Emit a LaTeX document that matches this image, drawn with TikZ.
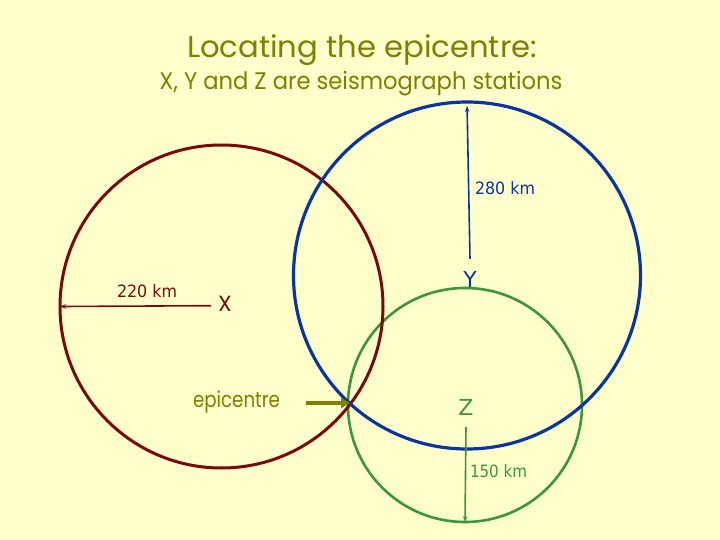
\documentclass[tikz,border=0pt]{standalone}
\usepackage{fontspec}
\usepackage{graphicx}
\usetikzlibrary{arrows.meta}
\newfontfamily\comicf{Poppins}
\newfontfamily\verdf{DejaVu Sans}
\definecolor{bg}{HTML}{FFFFCC}
\definecolor{olive}{HTML}{7F7F00}
\definecolor{maroonc}{HTML}{7A0A0A}
\definecolor{bluec}{HTML}{0A35A0}
\definecolor{greenc}{HTML}{3C963C}
\tikzset{
  txt/.style={inner sep=0pt, outer sep=0pt, anchor=base},
  ring/.style={circle, draw, inner sep=0pt, outer sep=0pt},
  radius arrow/.style={line width=1.6pt, -{Stealth[length=6pt,width=4.5pt]}},
}
\newcommand{\fitw}[2]{\resizebox{#1}{\height}{#2}}
\begin{document}
\begin{tikzpicture}[x=1pt,y=-1pt]
\fill[bg] (0,0) rectangle (720,540);
\useasboundingbox (0,0) rectangle (720,540);

% titles
\node[txt, text=olive] (title) at (362,58) {\fitw{350pt}{\fontsize{30}{36}\comicf Locating the epicentre:}};
\node[txt, text=olive] (subtitle) at (361,90) {\fitw{403pt}{\fontsize{24}{29}\comicf X, Y and Z are seismograph stations}};

% circles
\node[ring, draw=greenc, line width=2.6pt, minimum size=234pt] (cZ) at (465,405) {};
\node[ring, draw=maroonc, line width=3pt, minimum size=323pt] (cX) at (221.5,306.5) {};
\node[ring, draw=bluec, line width=3.2pt, minimum size=347pt] (cY) at (467,275.5) {};

% station labels
\node[txt, text=maroonc] (X) at (225,311) {\fontsize{22}{26}\comicf X};
\node[txt, text=bluec] (Y) at (470,287) {\fontsize{22}{26}\verdf Y};
\node[txt, text=greenc] (Z) at (466,415) {\fontsize{22}{26}\verdf Z};

% distance labels
\node[txt, text=maroonc] (d220) at (147,297) {\fitw{60pt}{\fontsize{17}{20}\verdf 220 km}};
\node[txt, text=bluec] (d280) at (505,195) {\fitw{60pt}{\fontsize{17}{20}\verdf 280 km}};
\node[txt, text=greenc] (d150) at (498.5,477) {\fitw{57pt}{\fontsize{17}{20}\verdf 150 km}};

% epicentre label
\node[txt, text=olive] (epi) at (236.5,407) {\fitw{87pt}{\fontsize{22}{26}\comicf epicentre}};
\coordinate (epistart) at (306,403);
\coordinate (epipoint) at (350,403);

% radius arrows
\draw[radius arrow, draw=maroonc] ([xshift=-7pt]X.west |- 0,305.7) -- (cX.west);
\draw[radius arrow, draw=bluec, shorten >=4pt] ([yshift=12pt]Y.north) -- (cY.north);
\draw[radius arrow, draw=greenc] ([yshift=-12pt]Z.base) -- (cZ.south);

% epicentre arrow
\draw[line width=3.8pt, draw=olive, -{Triangle[length=9pt,width=10pt]}] (epistart) -- (epipoint);
\end{tikzpicture}
\end{document}
